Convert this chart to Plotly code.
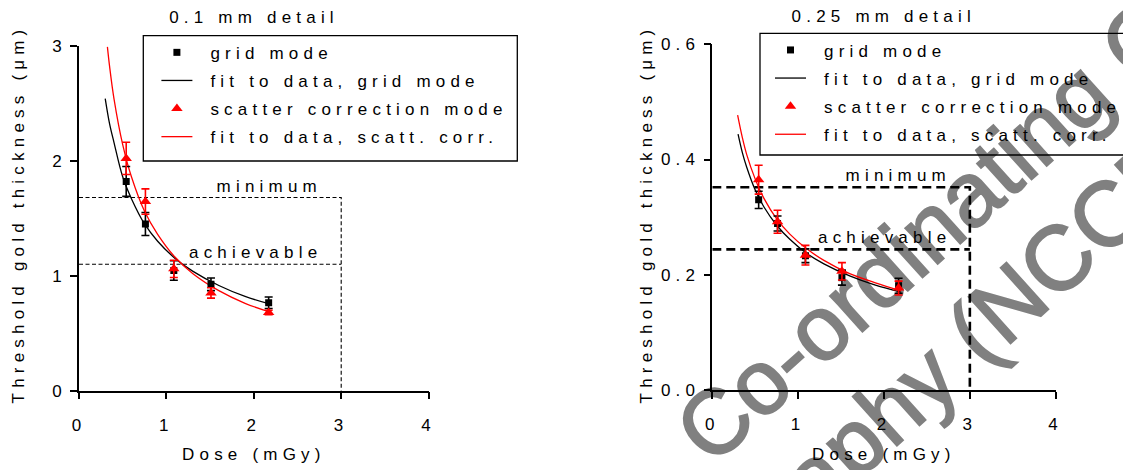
import math
import plotly.graph_objects as go

FONT = "Liberation Sans, Arial, sans-serif"
W, H = 1123, 470
FS = 17

# ---------------- data ----------------
dose = [0.54, 0.76, 1.085, 1.51, 2.17]

# 0.1 mm detail
grid_01 = [1.82, 1.45, 1.045, 0.925, 0.765]
grid_01_err = [0.13, 0.10, 0.085, 0.055, 0.05]
scat_01 = [2.02, 1.645, 1.06, 0.85, 0.68]
scat_01_err = [0.14, 0.11, 0.075, 0.045, 0.02]
fitx_01_grid = [0.30, 0.35, 0.40, 0.50, 0.60, 0.75, 0.90, 1.10, 1.30, 1.60, 1.90, 2.20]
fity_01_grid = [2.54, 2.32, 2.16, 1.86, 1.67, 1.45, 1.30, 1.15, 1.04, 0.915, 0.82, 0.75]
fitx_01_scat = [0.325, 0.35, 0.40, 0.50, 0.60, 0.75, 0.90, 1.10, 1.30, 1.60, 1.90, 2.20]
fity_01_scat = [2.99, 2.82, 2.54, 2.14, 1.86, 1.56, 1.36, 1.16, 1.02, 0.87, 0.76, 0.68]
minimum_01 = 1.68
achievable_01 = 1.10

# 0.25 mm detail
grid_025 = [0.330, 0.289, 0.233, 0.195, 0.181]
grid_025_err = [0.015, 0.013, 0.012, 0.013, 0.013]
scat_025 = [0.365, 0.292, 0.234, 0.206, 0.177]
scat_025_err = [0.025, 0.020, 0.017, 0.015, 0.012]
fitx_025_grid = [0.30, 0.35, 0.40, 0.50, 0.60, 0.75, 0.90, 1.10, 1.30, 1.60, 1.90, 2.20]
fity_025_grid = [0.444, 0.412, 0.387, 0.347, 0.318, 0.286, 0.262, 0.237, 0.219, 0.198, 0.182, 0.170]
fitx_025_scat = [0.295, 0.35, 0.40, 0.50, 0.60, 0.75, 0.90, 1.10, 1.30, 1.60, 1.90, 2.20]
fity_025_scat = [0.477, 0.438, 0.409, 0.366, 0.333, 0.297, 0.271, 0.245, 0.225, 0.202, 0.186, 0.172]
minimum_025 = 0.352
achievable_025 = 0.244

dose_limit = 3

x_ticks = [0, 1, 2, 3, 4]
y_ticks_01 = [0, 1, 2, 3]
y_ticks_025 = [0.0, 0.2, 0.4, 0.6]

legend_names = ["grid mode", "fit to data, grid mode",
                "scatter correction mode", "fit to data, scatt. corr."]
titles = ["0.1 mm detail", "0.25 mm detail"]
x_title = "Dose (mGy)"
y_title = "Threshold gold thickness (μm)"
wm_line1 = "Co-ordinating Centre"
wm_line2 = "Mammography (NCCPM)"

# ---------------- figure ----------------
fig = go.Figure()


def add_panel(xa, ya, leg, gy, ge, sy, se, fxg, fyg, fxs, fys, mn, ach, dash_w, dash):
    fig.add_trace(go.Scatter(x=[0, dose_limit, dose_limit], y=[mn, mn, 0], mode="lines",
                             line=dict(color="black", width=dash_w, dash=dash),
                             showlegend=False, hoverinfo="skip", xaxis=xa, yaxis=ya))
    fig.add_trace(go.Scatter(x=[0, dose_limit], y=[ach, ach], mode="lines",
                             line=dict(color="black", width=dash_w, dash=dash),
                             showlegend=False, hoverinfo="skip", xaxis=xa, yaxis=ya))
    fig.add_trace(go.Scatter(x=fxg, y=fyg, mode="lines", name=legend_names[1],
                             line=dict(color="black", width=1.3, shape="spline"),
                             legend=leg, legendgroup=leg + "b", legendrank=2,
                             xaxis=xa, yaxis=ya))
    fig.add_trace(go.Scatter(x=fxs, y=fys, mode="lines", name=legend_names[3],
                             line=dict(color="red", width=1.3, shape="spline"),
                             legend=leg, legendgroup=leg + "d", legendrank=4,
                             xaxis=xa, yaxis=ya))
    fig.add_trace(go.Scatter(x=dose, y=gy, mode="markers", name=legend_names[0],
                             marker=dict(symbol="square", size=7, color="black"),
                             error_y=dict(type="data", array=ge, color="black", thickness=1.6, width=4),
                             legend=leg, legendgroup=leg + "a", legendrank=1,
                             xaxis=xa, yaxis=ya))
    fig.add_trace(go.Scatter(x=dose, y=sy, mode="markers", name=legend_names[2],
                             marker=dict(symbol="triangle-up", size=10, color="red"),
                             error_y=dict(type="data", array=se, color="red", thickness=1.6, width=4),
                             legend=leg, legendgroup=leg + "c", legendrank=3,
                             xaxis=xa, yaxis=ya))


add_panel("x", "y", "legend", grid_01, grid_01_err, scat_01, scat_01_err,
          fitx_01_grid, fity_01_grid, fitx_01_scat, fity_01_scat,
          minimum_01, achievable_01, 1.1, "4px,2.5px")
add_panel("x2", "y2", "legend2", grid_025, grid_025_err, scat_025, scat_025_err,
          fitx_025_grid, fity_025_grid, fitx_025_scat, fity_025_scat,
          minimum_025, achievable_025, 2.6, "9px,5px")

axis_common = dict(showline=True, linecolor="black", linewidth=1.5, ticks="outside",
                   ticklen=7, tickwidth=1.5, tickcolor="black", showgrid=False,
                   zeroline=False, tickfont=dict(family=FONT, size=FS, color="black"))

L_dom_x = [79 / W, 428.6 / W]
L_dom_y = [(H - 390.7) / H, (H - 45.7) / H]
R_dom_x = [712.3 / W, 1055.7 / W]
R_dom_y = [(H - 390.0) / H, (H - 44.3) / H]

fig.update_layout(
    xaxis=dict(domain=L_dom_x, range=[0, 4], tickvals=x_ticks, anchor="y",
               ticklabelstandoff=11, **axis_common),
    yaxis=dict(domain=L_dom_y, range=[0, 3], tickvals=y_ticks_01, anchor="x", **axis_common),
    xaxis2=dict(domain=R_dom_x, range=[0, 4], tickvals=x_ticks, anchor="y2",
                ticklabelstandoff=11, **axis_common),
    yaxis2=dict(domain=R_dom_y, range=[0, 0.6], tickvals=y_ticks_025, tickformat=".1f",
                anchor="x2", **axis_common),
)

leg_common = dict(xanchor="left", yanchor="top", bgcolor="rgba(0,0,0,0)", borderwidth=0,
                  font=dict(family=FONT, size=FS, color="black"), traceorder="grouped",
                  tracegroupgap=3, itemwidth=57)
fig.update_layout(
    legend=dict(x=143.4 / W, y=(H - 34.8) / H, **leg_common),
    legend2=dict(x=757 / W, y=(H - 32.4) / H, **leg_common),
)

# legend frames
fig.add_shape(type="rect", xref="paper", yref="paper", x0=143.3 / W, x1=517.3 / W,
              y0=(H - 161) / H, y1=(H - 35.7) / H, line=dict(color="black", width=1.3),
              layer="above")
fig.add_shape(type="rect", xref="paper", yref="paper", x0=760 / W, x1=1.05,
              y0=(H - 155) / H, y1=(H - 33.3) / H, line=dict(color="black", width=1.3),
              layer="above")

# watermark (below the chart)
ang = math.radians(42)
dx, dy = math.cos(ang), -math.sin(ang)


def wm(text, cx, cy):
    fig.add_shape(type="line", xref="paper", yref="paper",
                  x0=(cx - 100 * dx) / W, y0=(H - (cy - 100 * dy)) / H,
                  x1=(cx + 100 * dx) / W, y1=(H - (cy + 100 * dy)) / H,
                  line=dict(color="rgba(0,0,0,0)", width=0), layer="below",
                  label=dict(text=text, textposition="middle", yanchor="middle", padding=0,
                             font=dict(family=FONT, size=91, color="#808080")))


wm(wm_line1, 998, 155)
wm(wm_line2, 867, 418)

ann_font = dict(family=FONT, size=FS, color="black")
anns = [
    dict(text=titles[0], xref="x", yref="paper", x=2, y=(H - 17) / H, showarrow=False,
         xanchor="center", yanchor="middle", font=ann_font),
    dict(text=titles[1], xref="x2", yref="paper", x=2, y=(H - 16) / H, showarrow=False,
         xanchor="center", yanchor="middle", font=ann_font),
]
for xr in ["x", "x2"]:
    anns.append(dict(text=x_title, xref=xr, yref="paper", x=2, y=(H - 454) / H, showarrow=False,
                     xanchor="center", yanchor="middle", font=ann_font))
for px in [18, 646]:
    anns.append(dict(text=y_title, xref="paper", yref="paper", x=px / W, y=(H - 214) / H,
                     showarrow=False, textangle=-90, xanchor="center", yanchor="middle",
                     font=ann_font))
for xr, yr, mn, ach in [("x", "y", minimum_01, achievable_01),
                        ("x2", "y2", minimum_025, achievable_025)]:
    anns.append(dict(text="minimum", xref=xr, yref=yr, x=2.8, y=mn, showarrow=False,
                     xanchor="right", yanchor="bottom", align="right", font=ann_font))
    anns.append(dict(text="achievable", xref=xr, yref=yr, x=2.8, y=ach, showarrow=False,
                     xanchor="right", yanchor="bottom", align="right", font=ann_font))

fig.update_layout(
    annotations=anns,
    width=W, height=H,
    margin=dict(l=0, r=0, t=0, b=0, autoexpand=False),
    paper_bgcolor="white", plot_bgcolor="rgba(0,0,0,0)",
    font=dict(family=FONT, size=FS, color="black"),
)

post = """
document.body.style.margin='0';
document.body.style.padding='0';
var gd = document.getElementById('{plot_id}');
gd.querySelectorAll('text').forEach(function(t){
  var fs = parseFloat(t.style.fontSize || window.getComputedStyle(t).fontSize);
  if (fs < 40) { t.style.letterSpacing = '5.2px'; }
  else { t.style.stroke = '#808080'; t.style.strokeWidth = '2px'; }
});
gd.querySelectorAll('g.legend, g.legend2').forEach(function(g){
  g.removeAttribute('clip-path');
  g.querySelectorAll('[clip-path]').forEach(function(e){ e.removeAttribute('clip-path'); });
  g.querySelectorAll('g.legendlines path').forEach(function(p){ p.setAttribute('d', 'M18,0h31'); });
});
"""

fig.write_html("out.html", post_script=post, config={"displayModeBar": False})
